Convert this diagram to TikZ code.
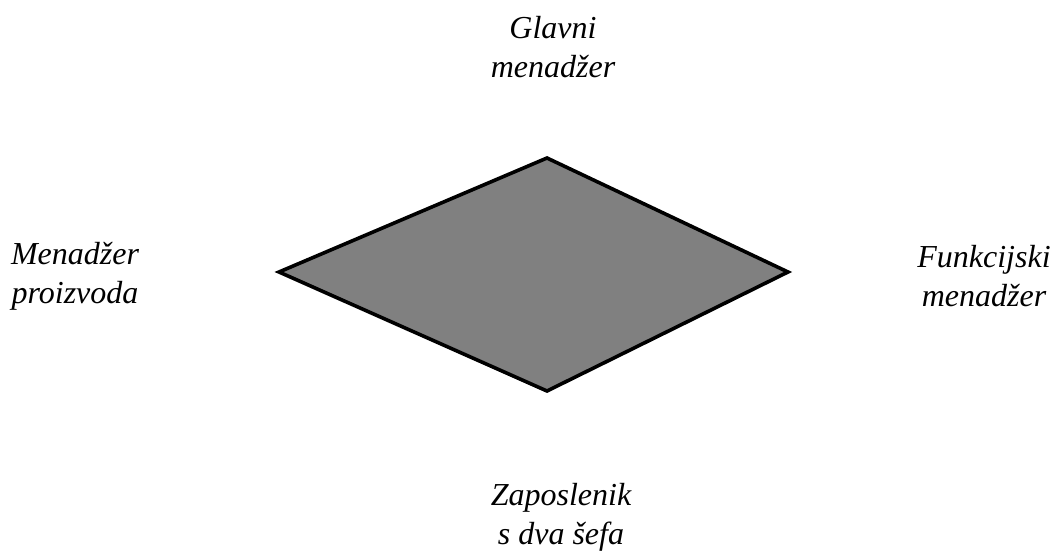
\documentclass[tikz,border=0pt]{standalone}
\usepackage{fontspec}
\setmainfont{Liberation Serif}
\usepackage{tikz}
\usetikzlibrary{positioning}
\tikzstyle{role} = [align=center, inner sep=0pt, font=\fontsize{32}{39}\selectfont\itshape]
\tikzstyle{rhomb} = [draw=black, line width=3.6pt, line join=miter, fill=black!50]

\begin{document}
\begin{tikzpicture}[x=1pt, y=-1pt]
    \useasboundingbox (0,0) rectangle (1052,554);
    \coordinate(top) at (547,158);
    \coordinate(left) at (279,272);
    \coordinate(right) at (788,272);
    \coordinate(bottom) at (547,391);
    \draw[rhomb] (top) -- (right) -- (bottom) -- (left) -- cycle;
    %
    \node(chief)[role] at (553,47) {Glavni\\menadžer};
    \node(product)[role] at (75,276) {Menadžer\\proizvoda};
    \node(function)[role] at (984,276) {Funkcijski\\menadžer};
    \node(worker)[role] at (561,517) {Zaposlenik\\s dva šefa};
\end{tikzpicture}
\end{document}
